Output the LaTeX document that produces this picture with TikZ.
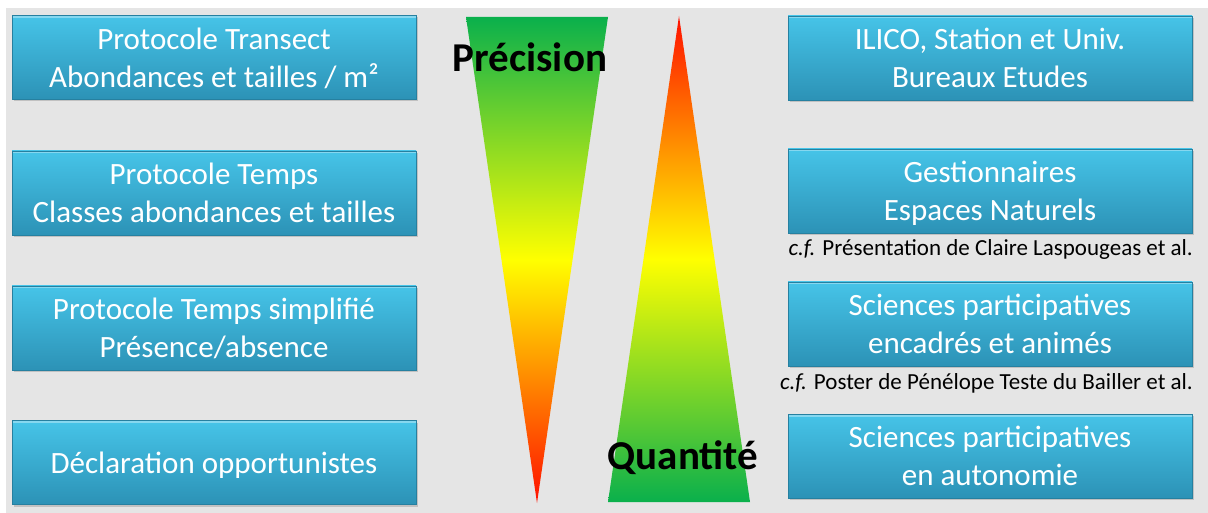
\documentclass[tikz,border=0pt]{standalone}
\usepackage{fontspec}
\setmainfont{Carlito}
\usetikzlibrary{shadows}

\definecolor{boxtop}{RGB}{70,196,232}
\definecolor{boxbot}{RGB}{44,146,182}
\definecolor{boxline}{RGB}{38,128,160}
\definecolor{panel}{RGB}{229,229,229}
\definecolor{leafgreen}{RGB}{10,176,76}
\definecolor{hotred}{RGB}{255,16,0}

\begin{document}
\begin{tikzpicture}[x=1pt, y=-1pt,
    protocol/.style={rectangle, minimum width=404pt, minimum height=84pt, inner sep=0pt, align=center, text depth=0pt, top color=boxtop, bottom color=boxbot, draw=boxline, drop shadow={shadow xshift=1.5pt, shadow yshift=-2pt, opacity=0.35}, text=white, font=\fontsize{31}{38}\selectfont,
        path picture={\draw[white, opacity=0.35, line width=2pt] ([yshift=-1.5pt]path picture bounding box.north west) -- ([yshift=-1.5pt]path picture bounding box.north east);}},
    axislabel/.style={font=\fontsize{41}{48}\selectfont\bfseries, text=black, inner sep=0pt},
    note/.style={anchor=east, font=\fontsize{23}{26}\selectfont, inner sep=0pt}
]

    % Background
    \useasboundingbox (0,0) rectangle (1208,513);
    \fill[panel] (6,8) rectangle (1208,513);

    % Triangles
    \shade[top color=leafgreen, bottom color=hotred, middle color=yellow] (466,17) -- (608,17) -- (537,503) -- cycle;
    \shade[top color=hotred, bottom color=leafgreen, middle color=yellow] (679,16) -- (750,502) -- (608,502) -- cycle;

    \node[axislabel] (precision) at (530,57) {Précision};
    \node[axislabel] (quantite) at (683,458) {Quantité};

    % Protocols
    \node[protocol] (transect) at (214,57.5) {Protocole Transect\\Abondances et tailles / m²};
    \node[protocol] (temps) at (214,193) {Protocole Temps\\Classes abondances et tailles};
    \node[protocol] (simple) at (214,328) {Protocole Temps simplifié\\Présence/absence};
    \node[protocol] (opport) at (214,462.5) {Déclaration opportunistes};

    % Actors
    \node[protocol] (ilico) at (990,58) {ILICO, Station et Univ.\\Bureaux Etudes};
    \node[protocol] (gestion) at (990,191) {Gestionnaires\\Espaces Naturels};
    \node[protocol] (encadres) at (990,324) {Sciences participatives\\encadrés et animés};
    \node[protocol] (autonomie) at (990,456) {Sciences participatives\\en autonomie};

    % References
    \node[note] (claire) at (1193,249) {\textit{c.f.} Présentation de Claire Laspougeas et al.};
    \node[note] (poster) at (1193,383) {\textit{c.f.} Poster de Pénélope Teste du Bailler et al.};

\end{tikzpicture}
\end{document}
